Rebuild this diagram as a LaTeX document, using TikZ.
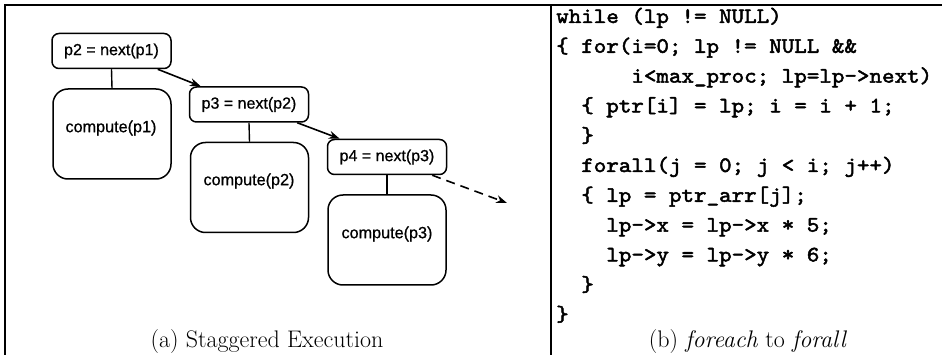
\documentclass[tikz,border=0pt]{standalone}
\usepackage{fontspec}
\newfontfamily\boxfont{Liberation Sans}[FakeBold=0.8]
\newfontfamily\codefont{lmmono10-regular.otf}[FakeBold=2.2,FakeStretch=1.085]
\usetikzlibrary{arrows.meta,calc}
\tikzset{
  smallbox/.style={draw,line width=1.5pt,rounded corners=7pt,minimum width=119pt,minimum height=35pt,inner sep=0pt},
  bigbox/.style={draw,line width=1.5pt,rounded corners=15pt,minimum width=118pt,minimum height=90pt,inner sep=0pt},
  boxtext/.style={font=\boxfont\fontsize{16.2}{18}\selectfont,inner sep=0pt},
  codeline/.style={anchor=base west,inner sep=0pt,font=\codefont\fontsize{22}{29.8}\selectfont},
  caption/.style={anchor=base,inner sep=0pt,font=\fontsize{24}{28}\selectfont},
  link/.style={line width=1.4pt},
  flow/.style={line width=1.6pt,-{Stealth[length=11pt,width=8pt]}},
  frame/.style={line width=1.2pt}
}
\begin{document}
\begin{tikzpicture}[x=1pt,y=-1pt]
\useasboundingbox (0,0) rectangle (942,355);
% frame
\coordinate (tl) at (5,5);
\coordinate (tr) at (942,5);
\coordinate (bl) at (5,355);
\coordinate (dt) at (551,5);
\coordinate (db) at (551,355);
\draw[frame] (bl) -- (tl) -- (tr);
\draw[frame] (dt) -- (db);
% panel (a)
\node[smallbox] (p2) at (111.5,51) {\boxfont\fontsize{16}{18}\selectfont p2 = next(p1)};
\node[bigbox] (c1) at (112,134) {};
\node[boxtext] (t1) at (111,128) {compute(p1)};
\node[smallbox] (p3) at (249,104.5) {\boxfont\fontsize{16}{18}\selectfont p3 = next(p2)};
\node[bigbox] (c2) at (249.5,187.5) {};
\node[boxtext] (t2) at (249,181) {compute(p2)};
\node[smallbox] (p4) at (387,157) {\boxfont\fontsize{16}{18}\selectfont p4 = next(p3)};
\node[bigbox] (c3) at (387,240) {};
\node[boxtext] (t3) at (387,234) {compute(p3)};
\draw[link] (p2.south) -- (c1.north);
\draw[link] (p3.south) -- (c2.north);
\draw[link] (p4.south) -- (c3.north);
\draw[flow] ($(p2.south east)+(-14,0)$) -- ($(p3.north west)+(12,0)$);
\draw[flow] ($(p3.south east)+(-12,0)$) -- ($(p4.north west)+(13,0)$);
\coordinate (dend) at (507,203);
\draw[flow,dashed,dash pattern=on 9pt off 6pt] ($(p4.south east)+(-15,0)$) -- (dend);
\node[caption] (capa) at (267,347) {(a) Staggered Execution};
% panel (b)
\node[codeline] (l1) at (556,23) {while (lp != NULL)};
\node[codeline] (l2) at (556,52.8) {\{ for(i=0; lp != NULL \&\&};
\node[codeline] (l3) at (556,82.6) {~~~~~~i<max\_proc; lp=lp->next)};
\node[codeline] (l4) at (556,112.4) {~~\{ ptr[i] = lp; i = i + 1;};
\node[codeline] (l5) at (556,142.2) {~~\}};
\node[codeline] (l6) at (556,172) {~~forall(j = 0; j < i; j++)};
\node[codeline] (l7) at (556,201.8) {~~\{ lp = ptr\_arr[j];};
\node[codeline] (l8) at (556,231.6) {~~~~lp->x = lp->x * 5;};
\node[codeline] (l9) at (556,261.4) {~~~~lp->y = lp->y * 6;};
\node[codeline] (l10) at (556,291.2) {~~\}};
\node[codeline] (l11) at (556,321) {\}};
\node[caption] (capb) at (748,347) {(b) \textit{foreach} to \textit{forall}};
\end{tikzpicture}
\end{document}
